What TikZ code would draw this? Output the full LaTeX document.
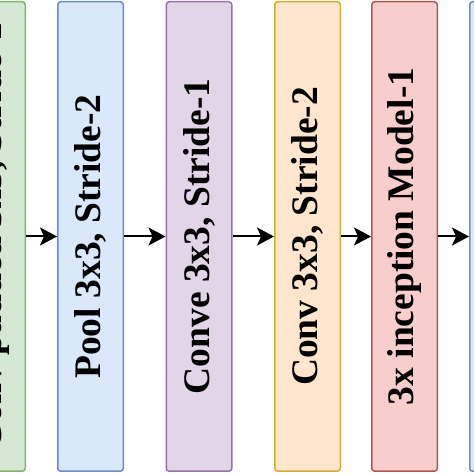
\documentclass[tikz,border=0pt]{standalone}
\usepackage{fontspec}
\setmainfont{Liberation Serif}
\usetikzlibrary{arrows.meta}
\definecolor{vertfond}{HTML}{D5E8D4}
\definecolor{vertbord}{HTML}{82B366}
\definecolor{bleufond}{HTML}{DAE8FC}
\definecolor{bleubord}{HTML}{6C8EBF}
\definecolor{violetfond}{HTML}{E1D5E7}
\definecolor{violetbord}{HTML}{9673A6}
\definecolor{orangefond}{HTML}{FFE6CC}
\definecolor{orangebord}{HTML}{D9AE2F}
\definecolor{rougefond}{HTML}{F8CECC}
\definecolor{rougebord}{HTML}{B85450}
\tikzstyle{couche} = [rectangle, rounded corners=3pt, line width=1.5pt, rotate=90, minimum width=469.5pt, minimum height=65.5pt, inner sep=0pt, text centered, font=\fontsize{37.5}{40}\selectfont\bfseries]
\tikzstyle{fleche} = [-{Stealth[length=17pt, width=18pt, inset=4pt]}, line width=2pt]

\begin{document}
\begin{tikzpicture}[x=1pt, y=1pt]
    \path [use as bounding box, clip] (0,0) rectangle (474,474);

    \node [couche, fill=vertfond, draw=vertbord] (conv1) at (-7.5,237.5) {Conv padded 3x3, Stride-1};
    \node [couche, fill=bleufond, draw=bleubord] (pool) at (90.5,237.5) {Pool 3x3, Stride-2};
    \node [couche, fill=violetfond, draw=violetbord] (conv2) at (199,237.5) {Conve 3x3, Stride-1};
    \node [couche, fill=orangefond, draw=orangebord] (conv3) at (307.5,237.5) {Conv 3x3, Stride-2};
    \node [couche, fill=rougefond, draw=rougebord] (incep) at (404.5,237.5) {3x inception Model-1};
    \node [couche, fill=bleufond, draw=bleubord] (suite) at (502.5,237.5) {};

    \foreach \a/\b in {conv1/pool, pool/conv2, conv2/conv3, conv3/incep, incep/suite}
    {
        \draw [fleche] (\a) -- (\b);
    }
\end{tikzpicture}
\end{document}
